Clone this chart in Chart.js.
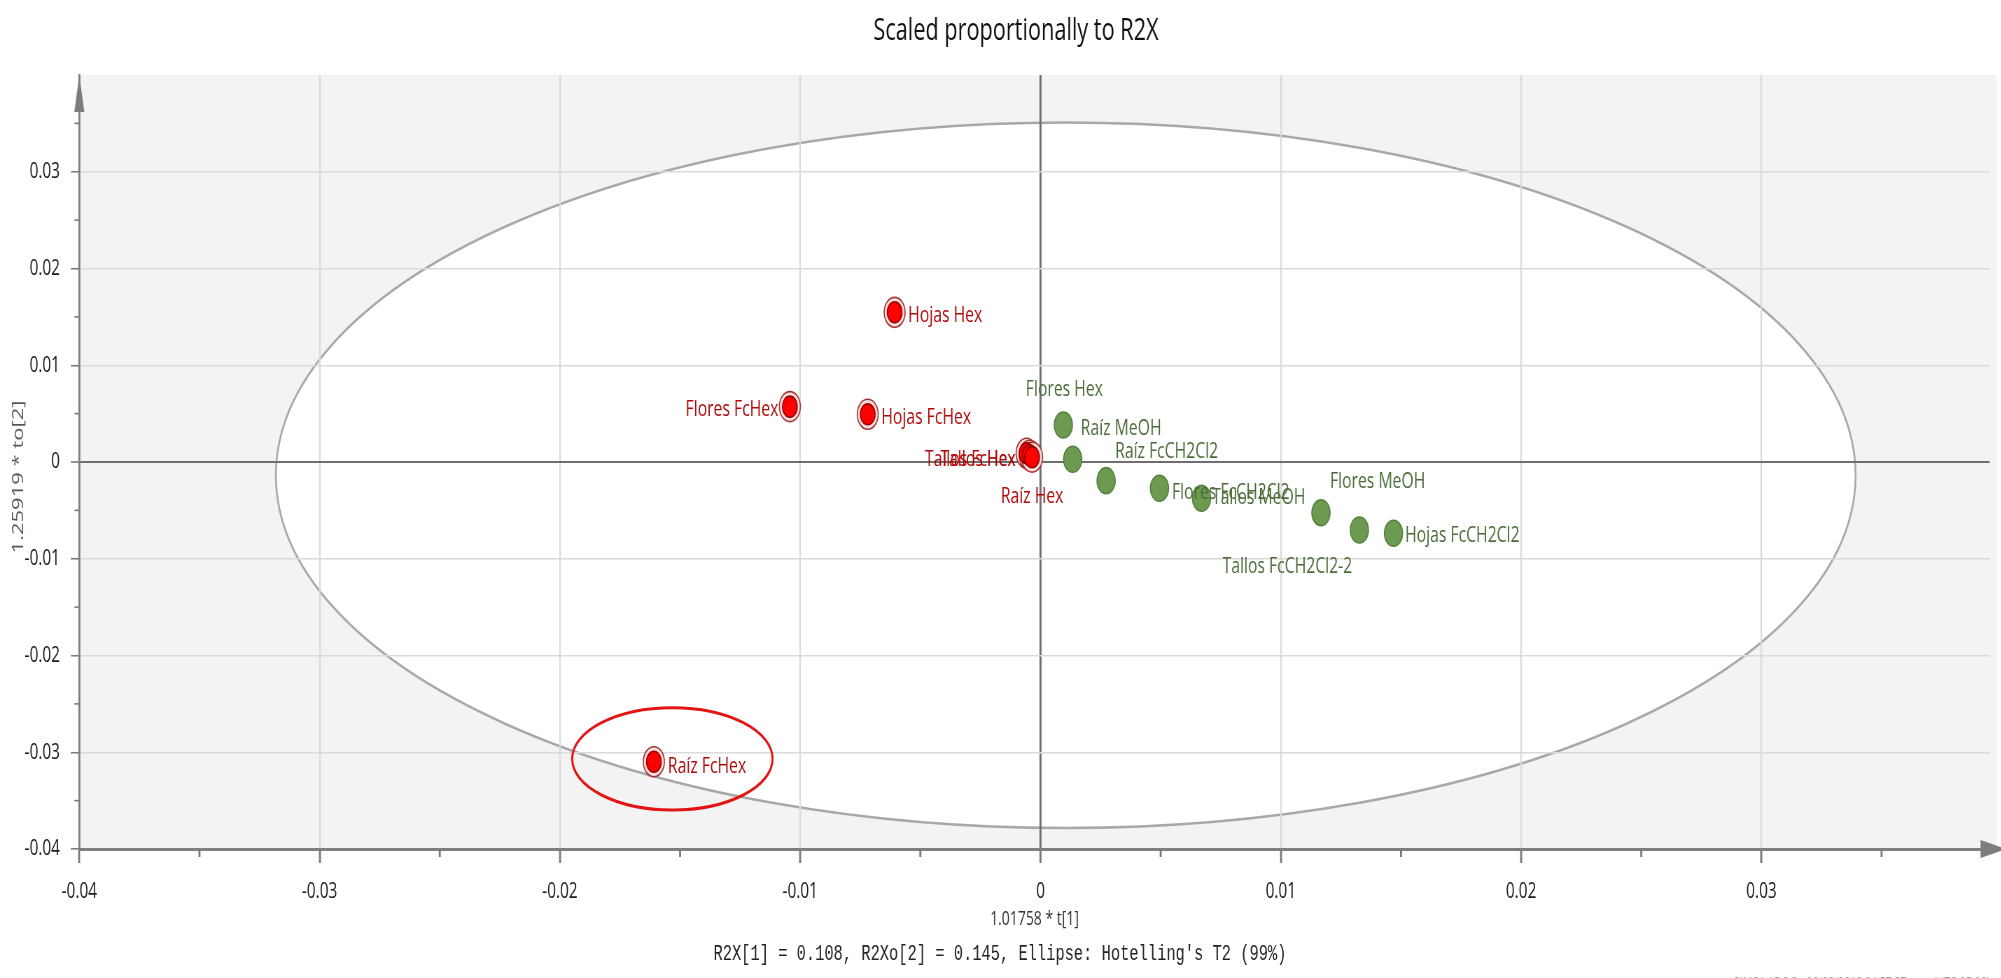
<!DOCTYPE html>
<html>
<head>
<meta charset="utf-8">
<script src="https://cdn.jsdelivr.net/npm/chart.js@4.4.1/dist/chart.umd.min.js"></script>
<style>
  html, body { margin: 0; padding: 0; background: #fff; overflow: hidden; }
  #wrap { width: 2001px; height: 978px; overflow: hidden; }
  #plot { transform: scaleX(0.7); transform-origin: 0 0; }
</style>
</head>
<body>
<div id="wrap"><canvas id="plot" width="2859" height="978"></canvas></div>
<script>
// the canvas is drawn wide and squeezed horizontally by CSS
const sx = 0.7;

const FONT = '"Open Sans", "Noto Sans", sans-serif';
const MONO = '"Liberation Mono", "DejaVu Sans Mono", monospace';

// Hex / FcHex extracts (red)
const redNames = ['Hojas Hex', 'Flores FcHex', 'Hojas FcHex', 'Tallos Hex', 'Tallos FcHex', 'Raíz Hex', 'Raíz FcHex'];
const redX = [-0.00607, -0.01043, -0.00719, -0.00058, -0.00045, -0.00035, -0.01609];
const redY = [0.01547, 0.00572, 0.00493, 0.0009, 0.0007, 0.0005, -0.03098];

// MeOH / CH2Cl2 extracts (green)
const greenNames = ['Flores Hex', 'Raíz MeOH', 'Raíz FcCH2Cl2', 'Flores FcCH2Cl2', 'Tallos MeOH', 'Flores MeOH', 'Tallos FcCH2Cl2-2', 'Hojas FcCH2Cl2'];
const greenX = [0.00095, 0.00134, 0.00273, 0.00495, 0.0067, 0.01167, 0.01327, 0.01469];
const greenY = [0.00382, 0.00028, -0.00193, -0.00272, -0.00375, -0.00524, -0.00703, -0.00737];

// Hotelling T2 (99%) ellipse: centre x, centre y, half width, half height
const t2Ellipse = [0.00105, -0.00137, 0.03287, 0.03646];
// hand drawn mark around the outlier
const flagEllipse = [-0.01532, -0.03068, 0.00417, 0.00529];

const title = 'Scaled proportionally to R2X';
const xLabel = '1.01758 * t[1]';
const yLabel = '1.25919 * to[2]';
const footer = "R2X[1] = 0.108, R2Xo[2] = 0.145, Ellipse: Hotelling's T2 (99%)";
const stamp = 'SIMCA 15.0.2 - 06/02/2019 04:57:27 p.m. (UTC-05:00)';

// label placement next to each point: align, dx, dy (screen px)
const redLabelPos = [['left', 13.5, 3], ['right', -11.5, 3], ['left', 13.5, 3.7], ['right', -11, 6.7],
  ['right', -14, 4.8], ['center', 0, 39.5], ['left', 14, 5.3]];
const greenLabelPos = [['center', 1, -35], ['left', 8, -31], ['left', 9, -29], ['left', 12.5, 4.4],
  ['left', 10.5, -0.3], ['left', 9, -31], ['center', -72, 36.7], ['left', 11.5, 2.7]];

const toPts = (xs, ys) => xs.map((x, i) => ({ x: x, y: ys[i] }));

function tickText(v) {
  const k = Math.round(v * 100);
  if (Math.abs(v * 100 - k) > 1e-6 || k === 4) return null;
  return k === 0 ? '0' : (k / 100).toFixed(2);
}
const isZero = (c) => c.tick && Math.abs(c.tick.value) < 1e-9;

function ellipsePath(chart, e) {
  const xs = chart.scales.x, ys = chart.scales.y, ctx = chart.ctx;
  const cx = xs.getPixelForValue(e[0]);
  const cy = ys.getPixelForValue(e[1]);
  const rx = Math.abs(xs.getPixelForValue(e[0] + e[2]) - cx);
  const ry = Math.abs(ys.getPixelForValue(e[1] + e[3]) - cy);
  ctx.beginPath();
  ctx.ellipse(cx, cy, rx, ry, 0, 0, Math.PI * 2);
}

const scorePlot = {
  id: 'scorePlot',
  beforeDraw(chart) {
    const { ctx, chartArea: a } = chart;
    ctx.save();
    ctx.fillStyle = '#f3f3f3';
    ctx.fillRect(a.left, a.top, a.right - a.left + 10, a.bottom - a.top);
    ellipsePath(chart, t2Ellipse);
    ctx.fillStyle = '#ffffff';
    ctx.fill();
    ctx.strokeStyle = '#a8a8a8';
    ctx.lineWidth = 2.6;
    ctx.stroke();
    ctx.restore();
  },
  afterDatasetsDraw(chart) {
    const ctx = chart.ctx, xs = chart.scales.x, ys = chart.scales.y;
    ctx.save();
    ctx.font = '22.5px ' + FONT;
    ctx.textBaseline = 'middle';
    const put = (names, px, py, pos, color) => {
      ctx.fillStyle = color;
      names.forEach((n, i) => {
        const [al, dx, dy] = pos[i];
        ctx.textAlign = al;
        ctx.fillText(n, xs.getPixelForValue(px[i]) + dx / sx, ys.getPixelForValue(py[i]) + dy);
      });
    };
    put(greenNames, greenX, greenY, greenLabelPos, '#4b6c38');
    put(redNames, redX, redY, redLabelPos, '#b00808');

    ellipsePath(chart, flagEllipse);
    ctx.strokeStyle = '#e31414';
    ctx.lineWidth = 3;
    ctx.stroke();
    ctx.restore();
  },
  afterDraw(chart) {
    const { ctx, chartArea: a } = chart;
    const xs = chart.scales.x, ys = chart.scales.y;
    ctx.save();
    // minor ticks
    ctx.strokeStyle = '#7a7a7a';
    ctx.lineWidth = 2 / sx;
    for (let v = -35; v <= 35; v += 10) {
      const px = xs.getPixelForValue(v / 1000);
      ctx.beginPath(); ctx.moveTo(px, a.bottom); ctx.lineTo(px, a.bottom + 8); ctx.stroke();
    }
    ctx.lineWidth = 1.6;
    for (let v = -35; v <= 35; v += 10) {
      const py = ys.getPixelForValue(v / 1000);
      ctx.beginPath(); ctx.moveTo(a.left - 7, py); ctx.lineTo(a.left, py); ctx.stroke();
    }
    // axis arrows
    ctx.fillStyle = '#7d7d7d';
    ctx.beginPath();
    ctx.moveTo(a.left, a.top);
    ctx.lineTo(a.left - 7.2, a.top + 37);
    ctx.lineTo(a.left + 7.2, a.top + 37);
    ctx.closePath(); ctx.fill();
    const bx = a.right - 13;
    ctx.beginPath();
    ctx.moveTo(bx + 37, a.bottom);
    ctx.lineTo(bx, a.bottom - 9);
    ctx.lineTo(bx, a.bottom + 9);
    ctx.closePath(); ctx.fill();

    // plot title
    ctx.fillStyle = '#111';
    ctx.font = '31px ' + FONT;
    ctx.textAlign = 'center';
    ctx.textBaseline = 'middle';
    ctx.fillText(title, 1016 / sx, 31);

    // vertical axis title
    ctx.save();
    ctx.translate(27, (a.top + a.bottom) / 2 + 15);
    ctx.rotate(-Math.PI / 2);
    ctx.fillStyle = '#5f5550';
    ctx.font = '22px ' + FONT;
    ctx.fillText(yLabel, 0, 0);
    ctx.restore();

    // software stamp, cut by the bottom edge
    ctx.font = '15px ' + FONT;
    ctx.fillStyle = '#9a9a9a';
    ctx.textAlign = 'left';
    ctx.textBaseline = 'alphabetic';
    ctx.fillText(stamp, 2477, 987);
    ctx.restore();
  }
};

new Chart(document.getElementById('plot'), {
  type: 'scatter',
  data: {
    datasets: [
      { data: toPts(redX, redY), pointRadius: 10.5, backgroundColor: '#ff0000', borderColor: '#9c0000', borderWidth: 1.6 },
      { data: toPts(redX, redY), pointRadius: 15, backgroundColor: '#f6dede', borderColor: '#a83232', borderWidth: 1.6 },
      { data: toPts(greenX, greenY), pointRadius: 13, backgroundColor: '#6c9a50', borderColor: '#56803f', borderWidth: 1.6 }
    ]
  },
  options: {
    responsive: false,
    animation: false,
    devicePixelRatio: 1,
    layout: { padding: { top: 75, right: 2, bottom: 0, left: 0 } },
    plugins: {
      legend: { display: false },
      tooltip: { enabled: false },
      subtitle: {
        display: true,
        position: 'bottom',
        text: footer,
        color: '#222',
        font: { family: MONO, size: 22 },
        padding: { top: 0, bottom: 11 }
      }
    },
    scales: {
      x: {
        type: 'linear',
        min: -0.04,
        max: 0.0395,
        ticks: { stepSize: 0.01, padding: 16, color: '#1a1a1a', font: { family: FONT, size: 22 }, callback: tickText, maxRotation: 0, autoSkip: false },
        grid: {
          color: (c) => isZero(c) ? '#6e6e6e' : '#dadada',
          lineWidth: (c) => isZero(c) ? 2 / sx : 1.5 / sx,
          tickColor: '#7a7a7a',
          tickWidth: 2 / sx,
          tickLength: 14
        },
        border: { color: '#7f7f7f', width: 3 },
        title: { display: true, text: xLabel, color: '#333', font: { family: FONT, size: 20 }, padding: { top: 0, bottom: 9.5 } },
        afterFit: (s) => { s.height = 91.6; }
      },
      y: {
        type: 'linear',
        min: -0.04,
        max: 0.04,
        ticks: { stepSize: 0.01, padding: 15.6, color: '#1a1a1a', font: { family: FONT, size: 22 }, callback: tickText },
        grid: {
          color: (c) => isZero(c) ? '#6e6e6e' : '#dadada',
          lineWidth: (c) => isZero(c) ? 2 : 1.5,
          tickColor: '#7a7a7a',
          tickWidth: 1.6,
          tickLength: 12
        },
        border: { color: '#7f7f7f', width: 2 / sx },
        afterFit: (s) => { s.width = 113.3; }
      }
    }
  },
  plugins: [scorePlot]
});
</script>
</body>
</html>
